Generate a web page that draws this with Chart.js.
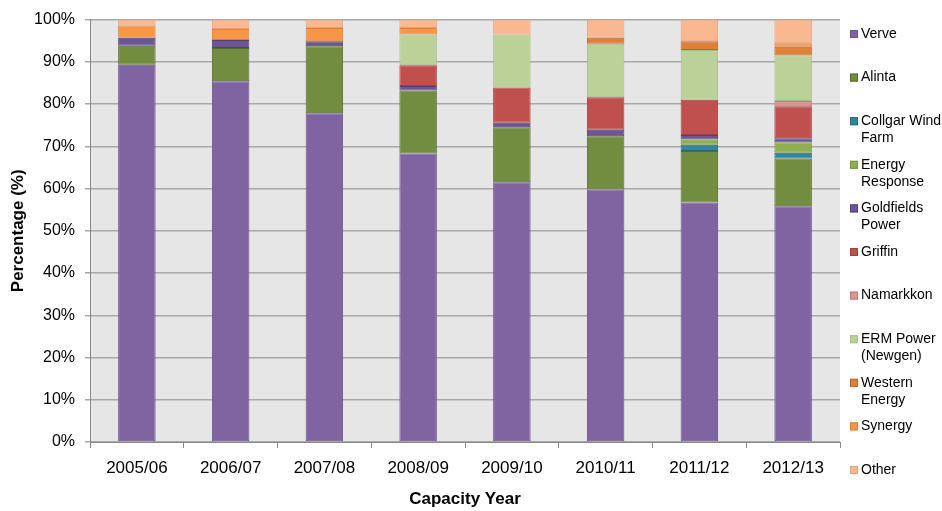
<!DOCTYPE html>
<html>
<head>
<meta charset="utf-8">
<script src="https://cdn.jsdelivr.net/npm/chart.js@4/dist/chart.umd.min.js"></script>
<style>
  html, body { margin: 0; padding: 0; background: #fff; }
  #wrap { width: 942px; height: 511px; position: relative; }
</style>
</head>
<body>
<div id="wrap"><canvas id="chart"></canvas></div>
<script>
const years = ['2005/06', '2006/07', '2007/08', '2008/09', '2009/10', '2010/11', '2011/12', '2012/13'];
const yTicks = ['0%', '10%', '20%', '30%', '40%', '50%', '60%', '70%', '80%', '90%', '100%'];

// share of capacity (%) by participant, bottom to top
const verve      = [89.3, 85.4, 77.8, 68.3, 61.5, 59.8, 56.7, 55.8];
const alinta     = [4.5, 7.9, 15.9, 14.9, 13.0, 12.6, 12.2, 11.3];
const collgar    = [null, null, null, null, null, null, 1.5, 1.4];
const energyResp = [null, null, null, null, null, null, 1.2, 2.4];
const goldfields = [1.9, 1.9, 1.2, 1.1, 1.1, 1.5, 1.1, 1.0];
const griffin    = [null, null, null, 4.9, 8.3, 7.7, 8.3, 7.6];
const namarkkon  = [null, null, null, null, null, null, null, 1.2];
const erm        = [null, null, null, 7.3, 12.6, 12.7, 11.8, 10.8];
const western    = [null, null, null, null, null, 1.4, 2.1, 2.1];
const synergy    = [2.9, 2.6, 3.1, 1.5, null, null, null, 0.8];
const other      = [1.4, 2.2, 2.0, 2.0, 3.5, 4.3, 5.1, 5.6];

const series = [
    { label: 'Verve', data: verve, fill: '#8064A2', edge: '#6B5490' },
    { label: 'Alinta', data: alinta, fill: '#728C40', edge: '#556B2C' },
    { label: 'Collgar Wind\nFarm', data: collgar, fill: '#31859C', edge: '#236A7E' },
    { label: 'Energy\nResponse', data: energyResp, fill: '#8FAF4E', edge: '#76933C' },
    { label: 'Goldfields\nPower', data: goldfields, fill: '#6B5592', edge: '#53407A' },
    { label: 'Griffin', data: griffin, fill: '#C0504D', edge: '#A33E3B' },
    { label: 'Namarkkon', data: namarkkon, fill: '#D99694', edge: '#C07C7A' },
    { label: 'ERM Power\n(Newgen)', data: erm, fill: '#BBD197', edge: '#A6BB86' },
    { label: 'Western\nEnergy', data: western, fill: '#DE7F3A', edge: '#C0652A' },
    { label: 'Synergy', data: synergy, fill: '#F79646', edge: '#E07F30' },
    { label: 'Other', data: other, fill: '#FAB890', edge: '#E8A07A' },
];

const FONT = '"Liberation Sans", Arial, sans-serif';

const plotBackground = {
    id: 'plotBackground',
    beforeDraw(chart) {
        const { ctx, chartArea } = chart;
        ctx.save();
        ctx.fillStyle = '#E6E6E6';
        ctx.fillRect(chartArea.left, chartArea.top, chartArea.right - chartArea.left, chartArea.bottom - chartArea.top);
        ctx.restore();
    }
};

// legend on the right, spread down the full height like the original
const sideLegend = {
    id: 'sideLegend',
    afterDraw(chart) {
        const ctx = chart.ctx;
        const x = 850, y0 = 34, step = 43.6;
        ctx.save();
        ctx.font = '14px ' + FONT;
        ctx.textBaseline = 'middle';
        chart.data.datasets.forEach((ds, i) => {
            const y = y0 + i * step;
            ctx.fillStyle = ds.backgroundColor;
            ctx.fillRect(x, y - 4, 8, 8);
            ctx.strokeStyle = ds.borderColor;
            ctx.lineWidth = 1;
            ctx.strokeRect(x + 0.5, y - 3.5, 7, 7);
            ctx.fillStyle = '#000';
            ds.label.split('\n').forEach((line, j) => {
                ctx.fillText(line, x + 11, y + j * 17);
            });
        });
        ctx.restore();
    }
};

new Chart(document.getElementById('chart').getContext('2d'), {
    type: 'bar',
    data: {
        labels: years,
        datasets: series.map((s) => ({
            label: s.label,
            data: s.data,
            backgroundColor: s.fill,
            borderColor: s.edge,
            borderWidth: 1,
            borderSkipped: false,
            categoryPercentage: 1,
            barPercentage: 0.4,
        })),
    },
    options: {
        responsive: true,
        maintainAspectRatio: false,
        animation: false,
        layout: { padding: { top: 19, right: 102, left: 0, bottom: 0 } },
        plugins: {
            legend: { display: false },
            tooltip: { enabled: false },
        },
        scales: {
            x: {
                stacked: true,
                grid: { display: true, offset: true, drawOnChartArea: false, color: '#888', tickLength: 6 },
                border: { color: '#888', width: 1 },
                ticks: { color: '#000', font: { family: FONT, size: 17 }, padding: 10 },
                title: { display: true, text: 'Capacity Year', color: '#000', font: { family: FONT, size: 17, weight: 'bold' }, padding: { top: 2, bottom: 1 } },
                afterFit: (scale) => { scale.height = 69; },
            },
            y: {
                stacked: true,
                min: 0,
                max: 100,
                grid: { color: '#A8A8A8', lineWidth: 1.5, tickLength: 5 },
                border: { color: '#888', width: 1 },
                ticks: {
                    stepSize: 10,
                    color: '#000',
                    font: { family: FONT, size: 16 },
                    padding: 10,
                    callback: (v) => yTicks[Math.round(v / 10)],
                },
                title: { display: true, text: 'Percentage (%)', color: '#000', font: { family: FONT, size: 17, weight: 'bold' }, padding: { top: 8, bottom: 2 } },
                afterFit: (scale) => { scale.width = 90; },
            },
        },
    },
    plugins: [plotBackground, sideLegend],
});
</script>
</body>
</html>
